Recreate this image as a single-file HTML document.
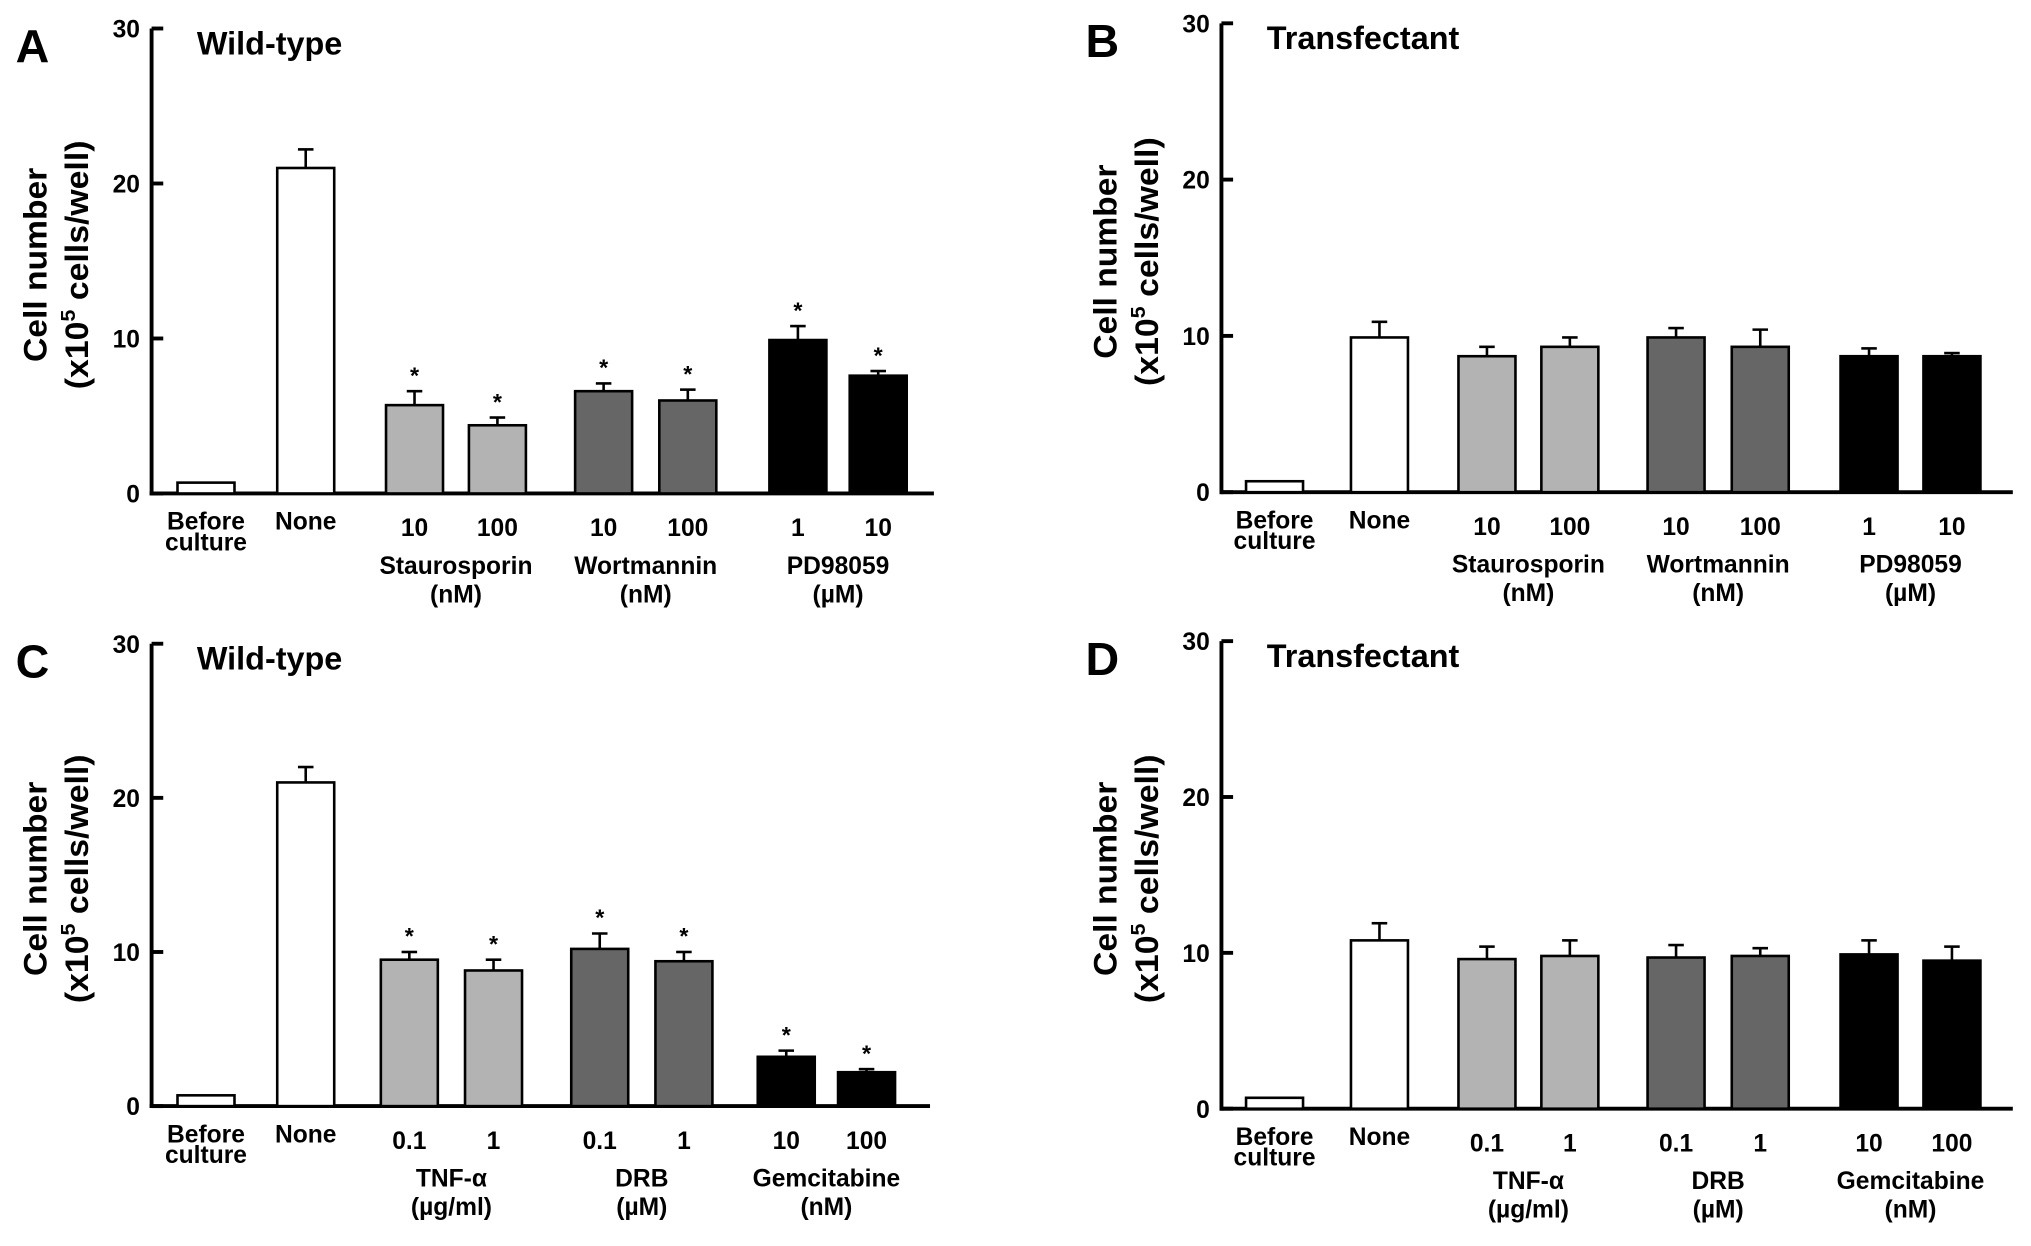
<!DOCTYPE html>
<html><head><meta charset="utf-8"><style>
html,body{margin:0;padding:0;background:#fff;}
svg{display:block;font-family:"Liberation Sans",Arial,sans-serif;font-weight:bold;}
</style></head><body>
<svg id="fig" width="2031" height="1246" viewBox="0 0 1568 962" xmlns="http://www.w3.org/2000/svg"></svg>
<script>
const yTicks = [0, 10, 20, 30];
const fills = ["#fff","#fff","#b3b3b3","#b3b3b3","#666","#666","#000","#000"];
const valuesA = [0.7, 21.0, 5.7, 4.4, 6.6, 6.0, 9.9, 7.6];
const errorsA = [0, 1.2, 0.9, 0.5, 0.5, 0.7, 0.9, 0.3];
const starsA = [0,0,1,1,1,1,1,1];
const valuesB = [0.7, 9.9, 8.7, 9.3, 9.9, 9.3, 8.7, 8.7];
const errorsB = [0, 1.0, 0.6, 0.6, 0.6, 1.1, 0.5, 0.2];
const starsB = [0,0,0,0,0,0,0,0];
const valuesC = [0.7, 21.0, 9.5, 8.8, 10.2, 9.4, 3.2, 2.2];
const errorsC = [0, 1.0, 0.5, 0.7, 1.0, 0.6, 0.4, 0.2];
const starsC = [0,0,1,1,1,1,1,1];
const valuesD = [0.7, 10.8, 9.6, 9.8, 9.7, 9.8, 9.9, 9.5];
const errorsD = [0, 1.1, 0.8, 1.0, 0.8, 0.5, 0.9, 0.9];
const starsD = [0,0,0,0,0,0,0,0];
const doseLabelsAB = ["10","100","10","100","1","10"];
const doseLabelsCD = ["0.1","1","0.1","1","10","100"];
const drugsAB = [["Staurosporin","(nM)"],["Wortmannin","(nM)"],["PD98059","(\u00b5M)"]];
const drugsCD = [["TNF-\u03b1","(\u00b5g/ml)"],["DRB","(\u00b5M)"],["Gemcitabine","(nM)"]];

const NS="http://www.w3.org/2000/svg";
const svg=document.getElementById('fig');
function mk(tag,attrs,parent,text){const e=document.createElementNS(NS,tag);for(const k in attrs)e.setAttribute(k,attrs[k]);if(text!==undefined)e.textContent=text;(parent||svg).appendChild(e);return e;}

function panel(p){
  const g=mk('g',{});
  
  
  const y=v=>p.y0-(v/30)*(p.y0-p.yTop);
  const bw=44;
  const L=mk('text',{x:p.ax-105,y:p.yTop+26,'font-size':36},g,p.letter);
  
  const T=mk('text',{x:p.ax+35,y:p.yTop+20,'font-size':25},g,p.title);
  
  const cy=(p.y0+p.yTop)/2+3;
  const yl=mk('text',{transform:`translate(${p.ax-81},${cy}) rotate(-90)`,'font-size':25,'text-anchor':'middle',textLength:150,lengthAdjust:'spacingAndGlyphs'},g,'Cell number');
  
  const yl2=mk('text',{transform:`translate(${p.ax-49},${cy}) rotate(-90)`,'font-size':25,'text-anchor':'middle',textLength:192,lengthAdjust:'spacingAndGlyphs'},g);
  
  mk('tspan',{},yl2,'(x10');
  mk('tspan',{dy:-10,'font-size':16},yl2,'5');
  mk('tspan',{dy:10},yl2,' cells/well)');
  const ya=mk('line',{x1:p.ax,y1:p.yTop,x2:p.ax,y2:p.y0+1.5,stroke:'#000','stroke-width':3},g);
  
  const xa=mk('line',{x1:p.ax-1.5,y1:p.y0,x2:p.axEnd,y2:p.y0,stroke:'#000','stroke-width':3},g);
  
  yTicks.forEach(t=>{
    mk('line',{x1:p.ax,y1:y(t),x2:p.ax+9,y2:y(t),stroke:'#000','stroke-width':3},g);
    const tl=mk('text',{x:p.ax-9,y:y(t)+7,'font-size':19,'text-anchor':'end'},g,String(t));
    
  });
  p.values.forEach((v,i)=>{
    const x=p.xs[i];
    const top=y(v);
    const b=mk('rect',{x:x,y:top,width:bw,height:p.y0-top,fill:fills[i],stroke:'#000','stroke-width':2},g);
    
    if(p.errors[i]>0){
      const et=y(v+p.errors[i]);const cx=x+bw/2;
      mk('line',{x1:cx,y1:top,x2:cx,y2:et,stroke:'#000','stroke-width':2},g);
      mk('line',{x1:cx-6,y1:et,x2:cx+6,y2:et,stroke:'#000','stroke-width':2},g);
      if(p.stars[i]){const s=mk('text',{x:cx,y:et-6,'font-size':18,'text-anchor':'middle'},g,'*');
        }
    }
  });
  const lb=p.y0+28;
  const fs=19;
  let t=mk('text',{x:p.xs[0]+bw/2,y:lb,'font-size':fs,'text-anchor':'middle'},g);
  
  mk('tspan',{x:p.xs[0]+bw/2,y:lb},t,'Before');mk('tspan',{x:p.xs[0]+bw/2,y:lb+16},t,'culture');
  t=mk('text',{x:p.xs[1]+bw/2,y:lb,'font-size':fs,'text-anchor':'middle'},g,'None');
  
  p.doses.forEach((d,i)=>{const d1=mk('text',{x:p.xs[i+2]+bw/2,y:lb+5,'font-size':fs,'text-anchor':'middle'},g,d);
    });
  p.drugs.forEach((d,i)=>{
    const cx=(p.xs[2+2*i]+p.xs[3+2*i]+bw)/2;
    const dt=mk('text',{'font-size':fs,'text-anchor':'middle'},g);
    
    mk('tspan',{x:cx,y:lb+34},dt,d[0]);mk('tspan',{x:cx,y:lb+56},dt,d[1]);
  });
}
const xsA=[137,214,298,362,444,509,594,656];
const xsC=[137,214,294,359,441,506,585,647];
const xsB=[962,1043,1126,1190,1272,1337,1421,1485];
panel({letter:'A',title:'Wild-type',ax:117,axEnd:721,yTop:22,y0:381,xs:xsA,values:valuesA,errors:errorsA,stars:starsA,doses:doseLabelsAB,drugs:drugsAB});
panel({letter:'B',title:'Transfectant',ax:943,axEnd:1554,yTop:18,y0:380,xs:xsB,values:valuesB,errors:errorsB,stars:starsB,doses:doseLabelsAB,drugs:drugsAB});
panel({letter:'C',title:'Wild-type',ax:117,axEnd:718,yTop:497,y0:854,xs:xsC,values:valuesC,errors:errorsC,stars:starsC,doses:doseLabelsCD,drugs:drugsCD});
panel({letter:'D',title:'Transfectant',ax:943,axEnd:1554,yTop:495,y0:856,xs:xsB,values:valuesD,errors:errorsD,stars:starsD,doses:doseLabelsCD,drugs:drugsCD});
</script>
</body></html>
